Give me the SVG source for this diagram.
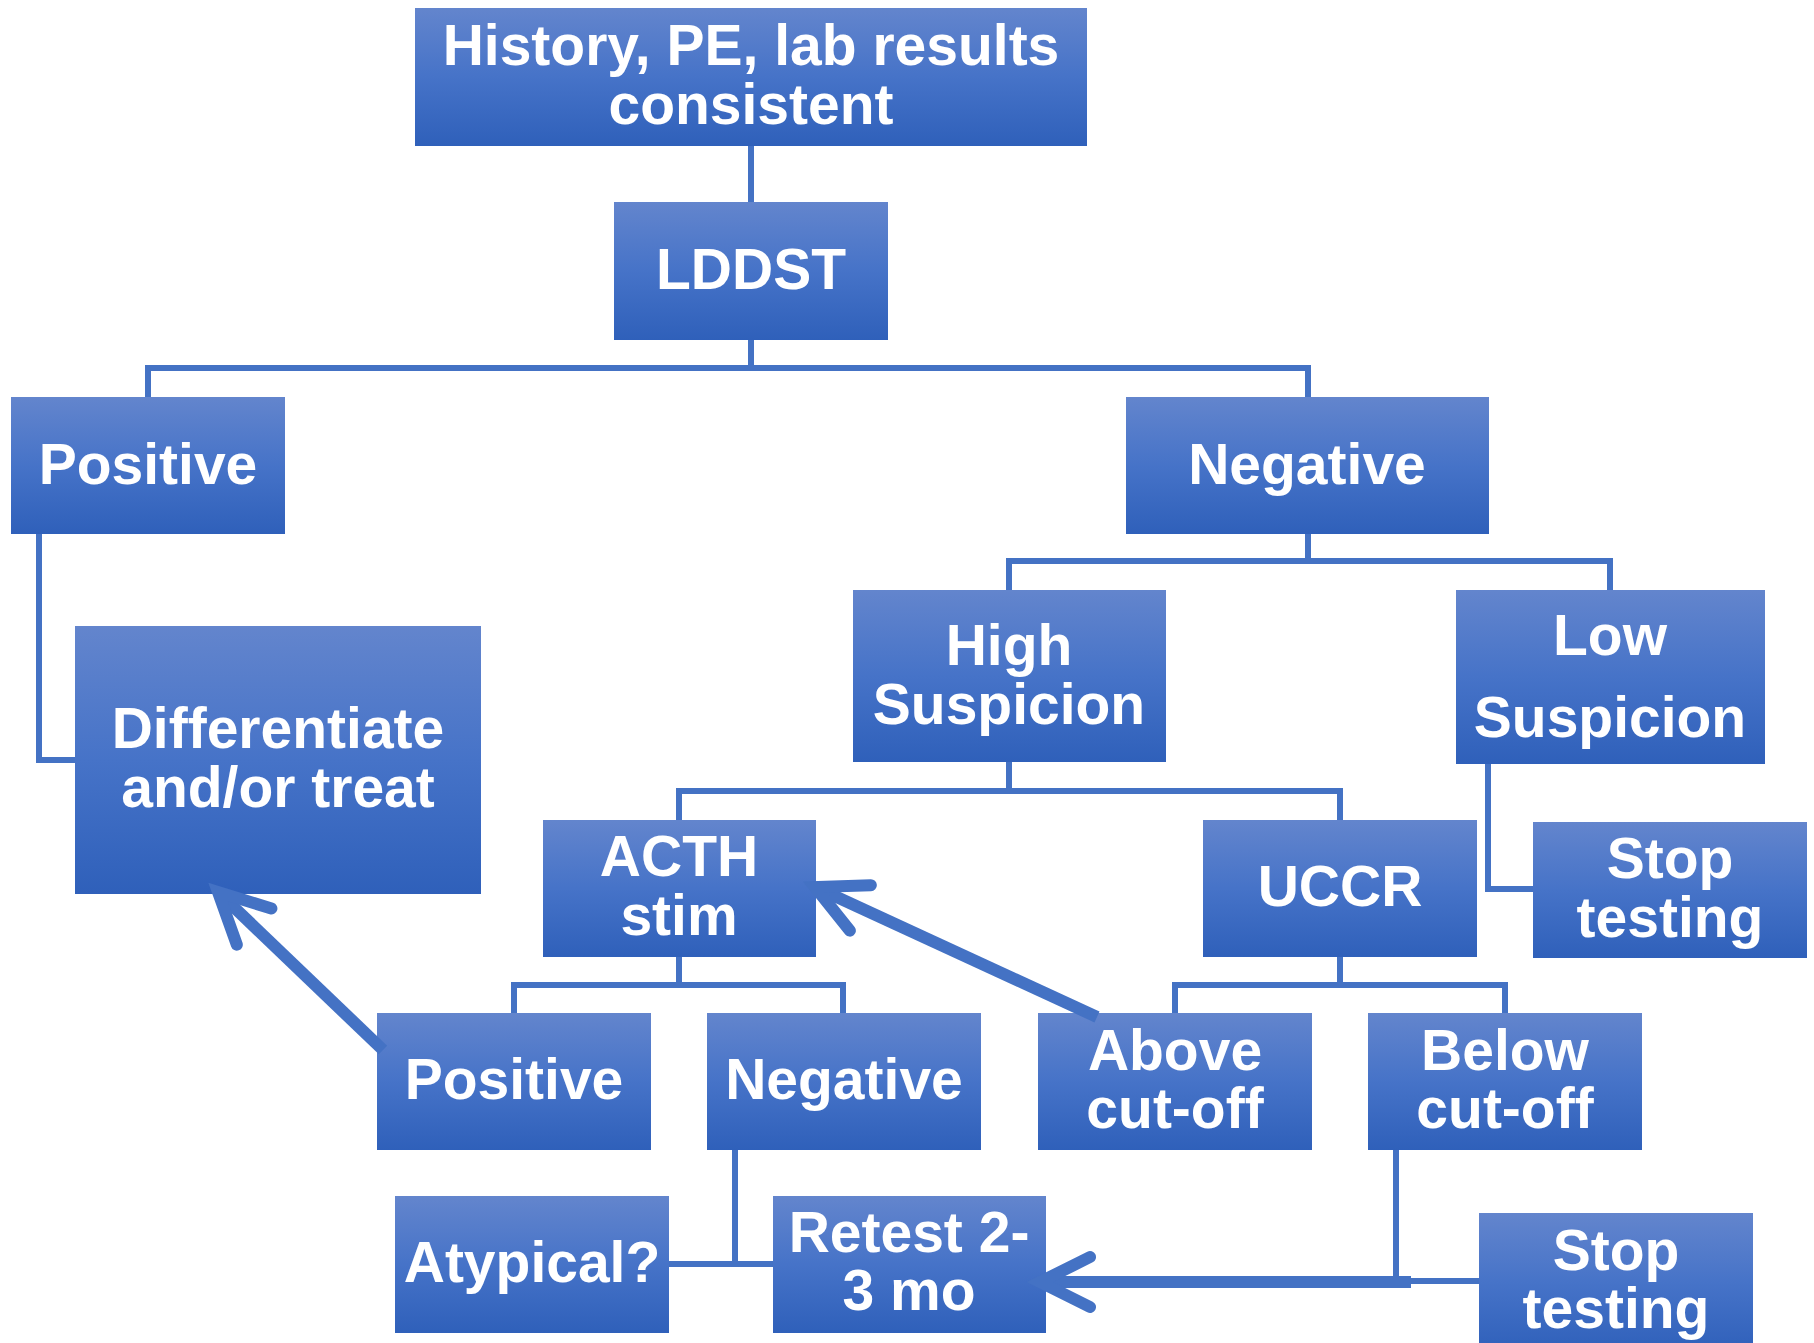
<svg xmlns="http://www.w3.org/2000/svg" width="1814" height="1343" viewBox="0 0 1814 1343">
  <defs>
    <linearGradient id="boxfill" x1="0" y1="0" x2="0" y2="1">
      <stop offset="0" stop-color="#6385CD"/>
      <stop offset="0.5" stop-color="#4673C8"/>
      <stop offset="1" stop-color="#2F60BA"/>
    </linearGradient>
    <marker id="chev" markerUnits="userSpaceOnUse" markerWidth="80" markerHeight="80" viewBox="-70 -40 80 80" refX="0" refY="0" orient="auto" overflow="visible">
      <path d="M-50,-25 L0,0 L-50,25" fill="none" stroke="#4472C4" stroke-width="12" stroke-linecap="round" stroke-linejoin="miter"/>
    </marker>
    <style>
      .box { fill: url(#boxfill); }
      .lbl { font-family: "Liberation Sans", Arial, sans-serif; font-weight: bold; font-size: 57px; fill: #FFFFFF; text-anchor: middle; }
      .thin { fill: none; stroke: #4472C4; stroke-width: 6; }
      .thick { fill: none; stroke: #4472C4; stroke-width: 12; marker-end: url(#chev); }
    </style>
  </defs>
  <rect width="1814" height="1343" fill="#FFFFFF"/>

  <g id="nodes">
    <g id="history">
      <rect class="box" x="415" y="8" width="672" height="138"/>
      <text class="lbl" x="751" y="65">History, PE, lab results</text>
      <text class="lbl" x="751" y="124">consistent</text>
    </g>
    <g id="lddst">
      <rect class="box" x="614" y="202" width="274" height="138"/>
      <text class="lbl" x="751" y="289">LDDST</text>
    </g>
    <g id="positive">
      <rect class="box" x="11" y="397" width="274" height="137"/>
      <text class="lbl" x="148" y="484">Positive</text>
    </g>
    <g id="negative">
      <rect class="box" x="1126" y="397" width="363" height="137"/>
      <text class="lbl" x="1307" y="484">Negative</text>
    </g>
    <g id="differentiate">
      <rect class="box" x="75" y="626" width="406" height="268"/>
      <text class="lbl" x="278" y="748">Differentiate</text>
      <text class="lbl" x="278" y="807">and/or treat</text>
    </g>
    <g id="high-suspicion">
      <rect class="box" x="853" y="590" width="313" height="172"/>
      <text class="lbl" x="1009" y="665">High</text>
      <text class="lbl" x="1009" y="724">Suspicion</text>
    </g>
    <g id="low-suspicion">
      <rect class="box" x="1456" y="590" width="309" height="174"/>
      <text class="lbl" x="1610" y="655">Low</text>
      <text class="lbl" x="1610" y="737">Suspicion</text>
    </g>
    <g id="stop-testing-1">
      <rect class="box" x="1533" y="822" width="274" height="136"/>
      <text class="lbl" x="1670" y="878">Stop</text>
      <text class="lbl" x="1670" y="937">testing</text>
    </g>
    <g id="acth-stim">
      <rect class="box" x="543" y="820" width="273" height="137"/>
      <text class="lbl" x="679" y="876">ACTH</text>
      <text class="lbl" x="679" y="935">stim</text>
    </g>
    <g id="uccr">
      <rect class="box" x="1203" y="820" width="274" height="137"/>
      <text class="lbl" x="1340" y="906">UCCR</text>
    </g>
    <g id="acth-positive">
      <rect class="box" x="377" y="1013" width="274" height="137"/>
      <text class="lbl" x="514" y="1099">Positive</text>
    </g>
    <g id="acth-negative">
      <rect class="box" x="707" y="1013" width="274" height="137"/>
      <text class="lbl" x="844" y="1099">Negative</text>
    </g>
    <g id="above-cutoff">
      <rect class="box" x="1038" y="1013" width="274" height="137"/>
      <text class="lbl" x="1175" y="1070">Above</text>
      <text class="lbl" x="1175" y="1128">cut-off</text>
    </g>
    <g id="below-cutoff">
      <rect class="box" x="1368" y="1013" width="274" height="137"/>
      <text class="lbl" x="1505" y="1070">Below</text>
      <text class="lbl" x="1505" y="1128">cut-off</text>
    </g>
    <g id="atypical">
      <rect class="box" x="395" y="1196" width="274" height="137"/>
      <text class="lbl" x="532" y="1282">Atypical?</text>
    </g>
    <g id="retest">
      <rect class="box" x="773" y="1196" width="273" height="137"/>
      <text class="lbl" x="909" y="1252">Retest 2-</text>
      <text class="lbl" x="909" y="1310">3 mo</text>
    </g>
    <g id="stop-testing-2">
      <rect class="box" x="1479" y="1213" width="274" height="140"/>
      <text class="lbl" x="1616" y="1270">Stop</text>
      <text class="lbl" x="1616" y="1328">testing</text>
    </g>
  </g>

  <g id="connectors">
    <path class="thin" d="M751,146 V202"/>
    <path class="thin" d="M751,340 V368 M148,397 V368 H1308 V397"/>
    <path class="thin" d="M39,534 V760 H75"/>
    <path class="thin" d="M1308,534 V561 M1009,590 V561 H1610 V590"/>
    <path class="thin" d="M1009,762 V791 M679,820 V791 H1340 V820"/>
    <path class="thin" d="M1488,764 V889 H1533"/>
    <path class="thin" d="M679,957 V985 M514,1013 V985 H843 V1013"/>
    <path class="thin" d="M1340,957 V985 M1175,1013 V985 H1505 V1013"/>
    <path class="thin" d="M735,1150 V1264 M669,1264 H773"/>
    <path class="thin" d="M1396,1150 V1281 H1479"/>
    <path class="thick" d="M383,1050 L218,892"/>
    <path class="thick" d="M1097,1017 L815,887"/>
    <path class="thick" d="M1411,1282 L1040,1282"/>
  </g>
</svg>
